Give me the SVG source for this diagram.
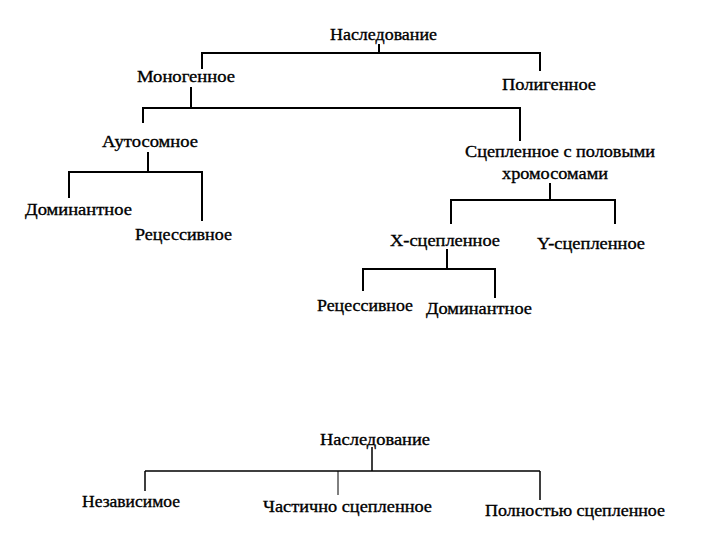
<svg xmlns="http://www.w3.org/2000/svg" width="720" height="540" viewBox="0 0 720 540">
<style>
  .t { font-family: "Liberation Serif", "Times New Roman", serif; font-size: 17px; fill: #000; stroke: #000; stroke-width: 0.35; }
  .c { stroke: #000; stroke-width: 2; fill: none; stroke-linecap: square; }
  .c2 { stroke: #000; stroke-width: 1.5; fill: none; }
</style>
<rect width="720" height="540" fill="#fff"/>
<g id="connectors">
  <path class="c" d="M379 45V53 M202 53H540 M202 53V68 M540 53V70"/>
  <path class="c" d="M191 88V108 M143 108H520 M143 108V122 M520 108V140"/>
  <path class="c" d="M148 153V172 M69 172H202 M69 172V197 M202 172V220"/>
  <path class="c" d="M550 184V200 M451 200H615 M451 200V223 M615 200V223"/>
  <path class="c" d="M447 250V269 M363 269H495 M363 269V290 M495 269V297"/>
  <path class="c2" d="M372 447V471 M145 471H540 M145 471V491 M540 471V500"/>
  <path class="c2" style="stroke-width:1" d="M338 471V495"/>
</g>
<g id="n-nasledovanie-1"><text class="t" x="330" y="40" textLength="107" lengthAdjust="spacingAndGlyphs">Наследование</text></g>
<g id="n-monogennoe"><text class="t" x="137" y="82" textLength="98" lengthAdjust="spacingAndGlyphs">Моногенное</text></g>
<g id="n-poligennoe"><text class="t" x="502" y="90" textLength="94" lengthAdjust="spacingAndGlyphs">Полигенное</text></g>
<g id="n-autosomnoe"><text class="t" x="102" y="147" textLength="96" lengthAdjust="spacingAndGlyphs">Аутосомное</text></g>
<g id="n-dominantnoe-1"><text class="t" x="25" y="215" textLength="107" lengthAdjust="spacingAndGlyphs">Доминантное</text></g>
<g id="n-recessivnoe-1"><text class="t" x="135" y="240" textLength="97" lengthAdjust="spacingAndGlyphs">Рецессивное</text></g>
<g id="n-sceplennoe-pol">
  <text class="t" x="465" y="157" textLength="190" lengthAdjust="spacingAndGlyphs">Сцепленное с половыми</text>
  <text class="t" x="502" y="179" textLength="106" lengthAdjust="spacingAndGlyphs">хромосомами</text>
</g>
<g id="n-x"><text class="t" x="390" y="246" textLength="110" lengthAdjust="spacingAndGlyphs">X-сцепленное</text></g>
<g id="n-y"><text class="t" x="537" y="249" textLength="108" lengthAdjust="spacingAndGlyphs">Y-сцепленное</text></g>
<g id="n-recessivnoe-2"><text class="t" x="317" y="311" textLength="96" lengthAdjust="spacingAndGlyphs">Рецессивное</text></g>
<g id="n-dominantnoe-2"><text class="t" x="426" y="314" textLength="106" lengthAdjust="spacingAndGlyphs">Доминантное</text></g>
<g id="n-nasledovanie-2"><text class="t" x="320" y="445" textLength="110" lengthAdjust="spacingAndGlyphs">Наследование</text></g>
<g id="n-nezavisimoe"><text class="t" x="82" y="507" textLength="98" lengthAdjust="spacingAndGlyphs">Независимое</text></g>
<g id="n-chastichno"><text class="t" x="263" y="512" textLength="169" lengthAdjust="spacingAndGlyphs">Частично сцепленное</text></g>
<g id="n-polnostyu"><text class="t" x="485" y="516" textLength="180" lengthAdjust="spacingAndGlyphs">Полностью сцепленное</text></g>
</svg>
